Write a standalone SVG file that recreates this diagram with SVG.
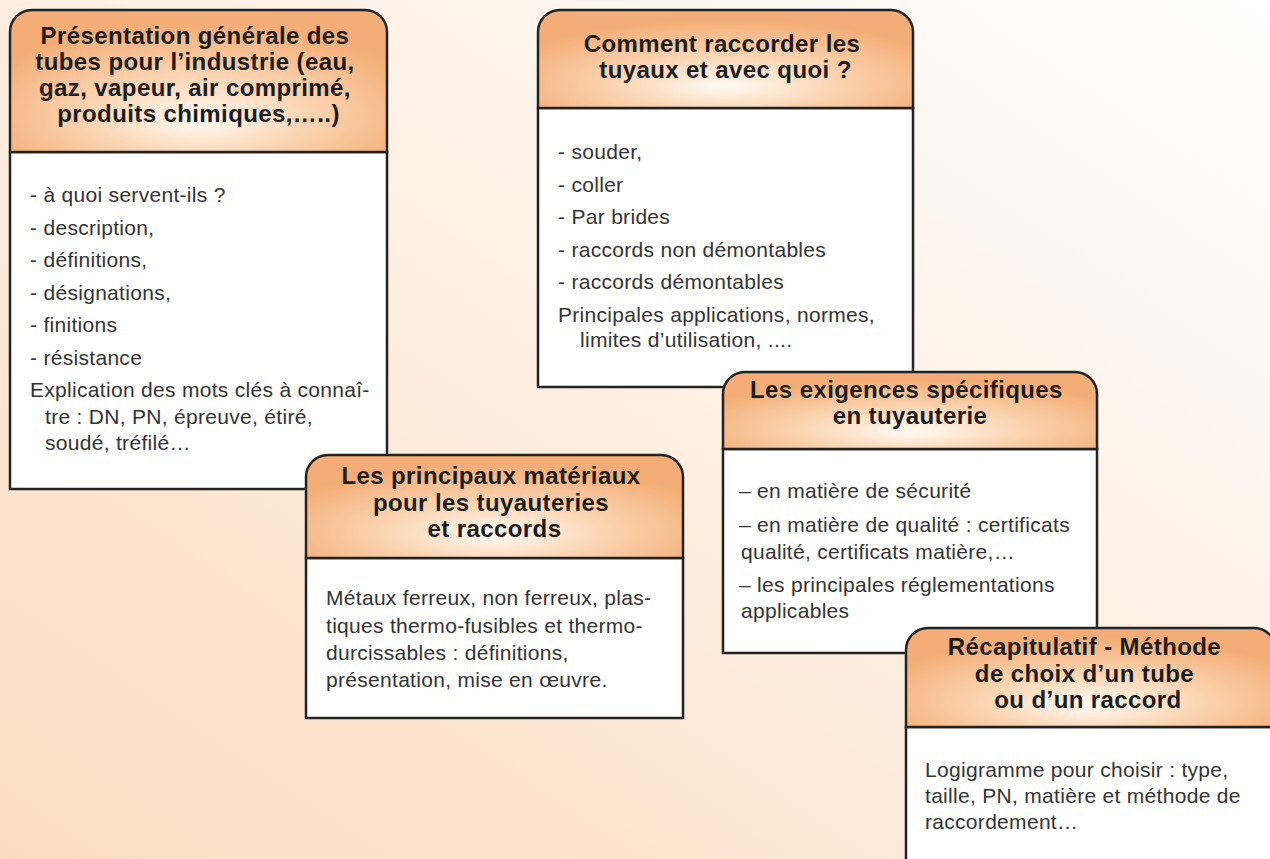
<svg xmlns="http://www.w3.org/2000/svg" width="1270" height="859" viewBox="0 0 1270 859">
  <defs>
    <linearGradient id="bg" x1="1" y1="0" x2="0" y2="1">
      <stop offset="0" stop-color="#ffffff"/>
      <stop offset="0.45" stop-color="#fdf0e4"/>
      <stop offset="1" stop-color="#fcdcc0"/>
    </linearGradient>
    <radialGradient id="hg" cx="0.5" cy="0.72" r="0.62" fx="0.5" fy="0.78">
      <stop offset="0" stop-color="#fffaf4"/>
      <stop offset="0.45" stop-color="#fbd6b4"/>
      <stop offset="1" stop-color="#f4ad76"/>
    </radialGradient>
    <style>
      .hd { fill: url(#hg); stroke: #222; stroke-width: 2.5; }
      .bd { fill: #ffffff; stroke: #222; stroke-width: 2.5; }
      .ht { font-family: 'Liberation Sans', Arial, sans-serif; font-weight: bold; font-size: 24px; text-anchor: middle; fill: #1c1c1c; letter-spacing: 0.4px; }
      .bt { font-family: 'Liberation Sans', Arial, sans-serif; font-size: 21px; fill: #333333; letter-spacing: 0.3px; }
    </style>
  </defs>

  <rect x="0" y="0" width="1270" height="859" fill="url(#bg)"/>

  <g id="connectors"/>

  <g id="node-presentation">
    <rect class="bd" x="10" y="152" width="377" height="337"/>
    <path class="hd" d="M10,152 V32 A22,22 0 0 1 32,10 H365 A22,22 0 0 1 387,32 V152 Z"/>
    <text class="ht">
      <tspan x="198.5" y="44">Présentation générale des</tspan>
      <tspan x="198.5" y="70">tubes pour l’industrie (eau,</tspan>
      <tspan x="198.5" y="96">gaz, vapeur, air comprimé,</tspan>
      <tspan x="198.5" y="122">produits chimiques,…..)</tspan>
    </text>
    <text class="bt">
      <tspan x="30" y="202">- à quoi servent-ils ?</tspan>
      <tspan x="30" y="235">- description,</tspan>
      <tspan x="30" y="267">- définitions,</tspan>
      <tspan x="30" y="300">- désignations,</tspan>
      <tspan x="30" y="332">- finitions</tspan>
      <tspan x="30" y="365">- résistance</tspan>
      <tspan x="30" y="397">Explication des mots clés à connaî-</tspan>
      <tspan x="45" y="424">tre : DN, PN, épreuve, étiré,</tspan>
      <tspan x="45" y="450">soudé, tréfilé…</tspan>
    </text>
  </g>

  <g id="node-raccorder">
    <rect class="bd" x="538" y="108" width="375" height="279"/>
    <path class="hd" d="M538,108 V32 A22,22 0 0 1 560,10 H891 A22,22 0 0 1 913,32 V108 Z"/>
    <text class="ht">
      <tspan x="725.5" y="51.5">Comment raccorder les</tspan>
      <tspan x="725.5" y="77.5">tuyaux et avec quoi ?</tspan>
    </text>
    <text class="bt">
      <tspan x="558" y="159">-  souder,</tspan>
      <tspan x="558" y="192">-  coller</tspan>
      <tspan x="558" y="224">-  Par brides</tspan>
      <tspan x="558" y="257">-  raccords non démontables</tspan>
      <tspan x="558" y="289">-  raccords démontables</tspan>
      <tspan x="558" y="322">Principales applications, normes,</tspan>
      <tspan x="580" y="347">limites d’utilisation, ....</tspan>
    </text>
  </g>

  <g id="node-materiaux">
    <rect class="bd" x="306" y="558" width="377" height="160"/>
    <path class="hd" d="M306,558 V477 A22,22 0 0 1 328,455 H661 A22,22 0 0 1 683,477 V558 Z"/>
    <text class="ht">
      <tspan x="494.5" y="484">Les principaux matériaux</tspan>
      <tspan x="494.5" y="511">pour les tuyauteries</tspan>
      <tspan x="494.5" y="537">et raccords</tspan>
    </text>
    <text class="bt">
      <tspan x="326" y="605">Métaux ferreux, non ferreux, plas-</tspan>
      <tspan x="326" y="633">tiques thermo-fusibles et thermo-</tspan>
      <tspan x="326" y="660">durcissables : définitions,</tspan>
      <tspan x="326" y="687">présentation, mise en œuvre.</tspan>
    </text>
  </g>

  <g id="node-exigences">
    <rect class="bd" x="723" y="449" width="374" height="204"/>
    <path class="hd" d="M723,449 V394 A22,22 0 0 1 745,372 H1075 A22,22 0 0 1 1097,394 V449 Z"/>
    <text class="ht">
      <tspan x="910" y="398">Les exigences spécifiques</tspan>
      <tspan x="910" y="424">en tuyauterie</tspan>
    </text>
    <text class="bt">
      <tspan x="739" y="498">– en matière de sécurité</tspan>
      <tspan x="739" y="532">– en matière de qualité : certificats</tspan>
      <tspan x="741" y="559">qualité, certificats matière,…</tspan>
      <tspan x="739" y="592">– les principales réglementations</tspan>
      <tspan x="741" y="618">applicables</tspan>
    </text>
  </g>

  <g id="node-recapitulatif">
    <rect class="bd" x="906" y="727" width="370" height="145"/>
    <path class="hd" d="M906,727 V650 A22,22 0 0 1 928,628 H1254 A22,22 0 0 1 1276,650 V727 Z"/>
    <text class="ht">
      <tspan x="1088" y="655">Récapitulatif - Méthode</tspan>
      <tspan x="1088" y="682">de choix d’un tube</tspan>
      <tspan x="1088" y="708">ou d’un raccord</tspan>
    </text>
    <text class="bt">
      <tspan x="925" y="777">Logigramme pour choisir : type,</tspan>
      <tspan x="925" y="803">taille, PN, matière et méthode de</tspan>
      <tspan x="925" y="829">raccordement…</tspan>
    </text>
  </g>
</svg>
